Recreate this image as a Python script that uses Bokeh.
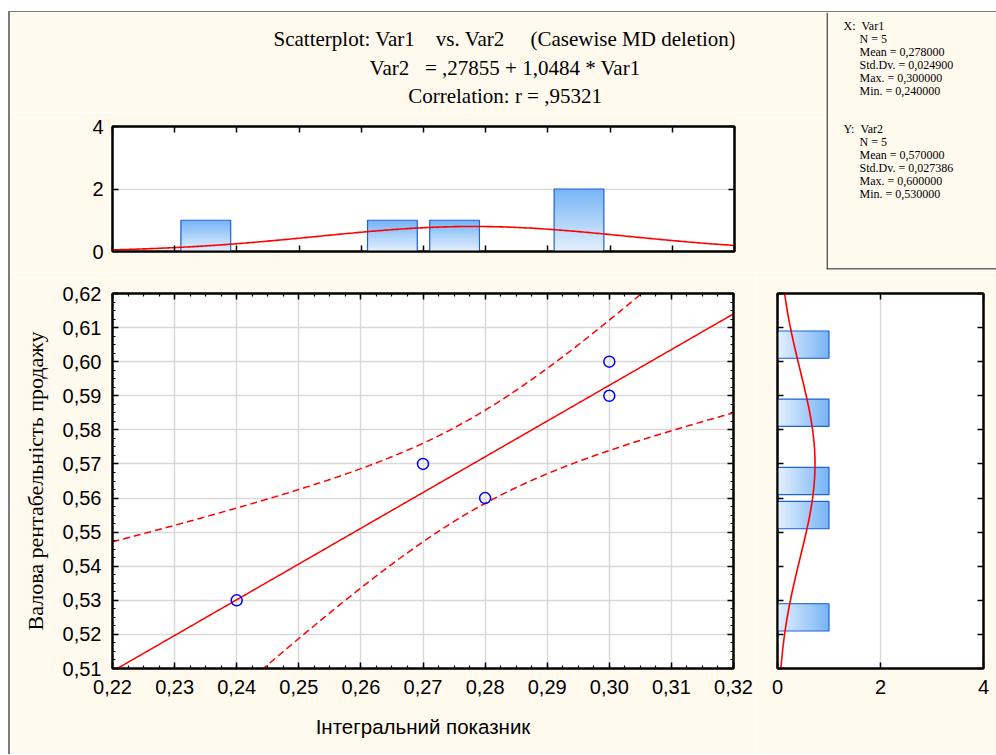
import numpy as np
from bokeh.plotting import figure
from bokeh.models import Range1d, LinearAxis, FixedTicker, Span, Spacer, ColumnDataSource, Grid
from bokeh.layouts import row, column
from bokeh.core.properties import value
from bokeh.embed import file_html
from bokeh.resources import INLINE

# ---------------- data ----------------
var1 = [0.24, 0.27, 0.28, 0.30, 0.30]   # Інтегральний показник
var2 = [0.53, 0.57, 0.56, 0.60, 0.59]   # Валова рентабельність продажу

x_hist_centers = [0.235, 0.265, 0.275, 0.295]
x_hist_counts = [1, 1, 1, 2]
y_hist_centers = [0.525, 0.555, 0.565, 0.585, 0.605]
y_hist_counts = [1, 1, 1, 1, 1]

x_ticks = [0.22, 0.23, 0.24, 0.25, 0.26, 0.27, 0.28, 0.29, 0.30, 0.31, 0.32]
x_tick_labels = ["0,22", "0,23", "0,24", "0,25", "0,26", "0,27", "0,28", "0,29", "0,30", "0,31", "0,32"]
y_ticks = [0.51, 0.52, 0.53, 0.54, 0.55, 0.56, 0.57, 0.58, 0.59, 0.60, 0.61, 0.62]
y_tick_labels = ["0,51", "0,52", "0,53", "0,54", "0,55", "0,56", "0,57", "0,58", "0,59", "0,60", "0,61", "0,62"]
count_ticks = [0, 2, 4]
count_tick_labels = ["0", "2", "4"]

NB = "\u00a0"
title_lines = [
    "Scatterplot: Var1" + NB * 3 + " vs. Var2" + NB * 4 + " (Casewise MD deletion)",
    "Var2" + NB * 2 + " = ,27855 + 1,0484 * Var1",
    "Correlation: r = ,95321",
]
stats_heads = ["X:" + NB * 2 + "Var1", "Y:" + NB * 2 + "Var2"]
stats_x_lines = ["N = 5", "Mean = 0,278000", "Std.Dv. = 0,024900", "Max. = 0,300000", "Min. = 0,240000"]
stats_y_lines = ["N = 5", "Mean = 0,570000", "Std.Dv. = 0,027386", "Max. = 0,600000", "Min. = 0,530000"]
x_label = "Інтегральний показник"
y_label = "Валова рентабельність продажу"

# ---------------- styles ----------------
BG = "#FFF9EE"
GRID = "#D9D9D9"
RED = "#FF0000"
BLUE = "#0000FF"
BAR_EDGE = "#1E62D6"
BAR_DARK = (118, 180, 246)
BAR_LIGHT = (228, 240, 253)
BAR_W = 0.008
BIN = 0.01
SANS = "Liberation Sans"
SERIF = "Liberation Serif"
TICK_FS = "20px"

# ---------------- fits ----------------
xa = np.array(var1)
ya = np.array(var2)
n = len(xa)
mx, my = xa.mean(), ya.mean()
sdx, sdy = xa.std(ddof=1), ya.std(ddof=1)
sxx = ((xa - mx) ** 2).sum()
slope = ((xa - mx) * (ya - my)).sum() / sxx
intercept = my - slope * mx
resid = ya - (intercept + slope * xa)
s_err = np.sqrt((resid ** 2).sum() / (n - 2))
T95 = 3.182446  # t(0.975, df = 3)
xs = np.linspace(0.22, 0.32, 301)
fit = intercept + slope * xs
half = T95 * s_err * np.sqrt(1.0 / n + (xs - mx) ** 2 / sxx)


def normal_counts(t, m, sd):
    return n * BIN * np.exp(-0.5 * ((t - m) / sd) ** 2) / (sd * np.sqrt(2 * np.pi))


def mix(c0, c1, f):
    r, g, b = (int(round(a + (bb - a) * f)) for a, bb in zip(c0, c1))
    return "#%02x%02x%02x" % (r, g, b)


def gradient_source(centers, counts, vertical, K=30):
    d = dict(left=[], right=[], bottom=[], top=[], color=[])
    for c, h in zip(centers, counts):
        for j in range(K):
            ext = h * (K - j) / K
            f = (K - j - 0.5) / K
            col = mix(BAR_LIGHT, BAR_DARK, f)
            if vertical:
                d["left"].append(c - BAR_W / 2); d["right"].append(c + BAR_W / 2)
                d["bottom"].append(0); d["top"].append(ext)
            else:
                d["bottom"].append(c - BAR_W / 2); d["top"].append(c + BAR_W / 2)
                d["left"].append(0); d["right"].append(ext)
            d["color"].append(col)
    return ColumnDataSource(d)


def style_axis(ax, ticks, labels=None, minor=None, tick_len=6, standoff=10):
    ax.ticker = FixedTicker(ticks=ticks, minor_ticks=minor or [])
    ax.axis_line_color = "black"
    ax.axis_line_width = 2
    ax.major_tick_in = tick_len
    ax.major_tick_out = 0
    ax.minor_tick_in = 3
    ax.minor_tick_out = 0
    ax.major_tick_line_width = 1.5
    ax.minor_tick_line_width = 1.2
    ax.major_tick_line_color = "black"
    ax.minor_tick_line_color = "black" if minor else None
    if labels is not None:
        ax.major_label_overrides = dict(zip(ticks, labels))
        ax.major_label_text_font = SANS
        ax.major_label_text_font_size = TICK_FS
        ax.major_label_text_color = "black"
        ax.major_label_standoff = standoff
    else:
        ax.major_label_text_font_size = "1px"
        ax.major_label_text_color = None
        ax.major_label_standoff = 0
    return ax


def plain_fig(**kw):
    p = figure(output_backend="svg", toolbar_location=None, title=None,
               x_axis_location=None, y_axis_location=None, **kw)
    for g in list(p.center):
        if isinstance(g, Grid):
            p.center.remove(g)
    return p


def base_fig(**kw):
    return plain_fig(background_fill_color="white", border_fill_color=BG,
                     outline_line_color="black", outline_line_width=2, **kw)


def add_grid(p, dim, ticks):
    p.add_layout(Grid(dimension=dim, ticker=FixedTicker(ticks=ticks),
                      grid_line_color=GRID, grid_line_width=1.5))


x_minor = [round(0.22 + 0.0025 * i, 4) for i in range(41)]
y_minor = [round(0.51 + 0.0025 * i, 4) for i in range(45)]

# ---------------- titles ----------------
pT = plain_fig(width=816, height=100, x_range=Range1d(0, 816), y_range=Range1d(0, 100),
               min_border_left=0, min_border_right=0, min_border_top=0, min_border_bottom=0,
               outline_line_color=None, background_fill_color=BG, border_fill_color=BG)
pT.text(x=[515, 515, 515], y=[73.5, 44.5, 16.5], text=title_lines, text_font=value(SERIF),
        text_font_size="21px", text_align="center", text_baseline="middle", text_color="black")

# ---------------- top histogram ----------------
pA = base_fig(width=816, height=160, x_range=Range1d(0.22, 0.32), y_range=Range1d(0, 4),
              min_border_left=102, min_border_right=92, min_border_top=14, min_border_bottom=21)
pA.add_layout(style_axis(LinearAxis(), x_ticks), "below")
pA.add_layout(style_axis(LinearAxis(), count_ticks, count_tick_labels, standoff=9), "left")
pA.add_layout(style_axis(LinearAxis(), x_ticks), "above")
pA.add_layout(style_axis(LinearAxis(), count_ticks), "right")
add_grid(pA, 1, count_ticks)
pA.quad(left="left", right="right", bottom="bottom", top="top", fill_color="color",
        line_color=None, source=gradient_source(x_hist_centers, x_hist_counts, True))
pA.quad(left=[c - BAR_W / 2 for c in x_hist_centers], right=[c + BAR_W / 2 for c in x_hist_centers],
        bottom=0, top=x_hist_counts, fill_color=None, line_color=BAR_EDGE, line_width=1.2)
pA.line(xs, normal_counts(xs, mx, sdx), line_color=RED, line_width=1.6)

# ---------------- stats box ----------------
pB = plain_fig(width=170, height=260, x_range=Range1d(0, 170), y_range=Range1d(0, 257),
               min_border_left=0, min_border_right=0, min_border_top=0, min_border_bottom=3,
               outline_line_color=None, background_fill_color=BG, border_fill_color=BG)
pB.add_layout(Span(location=0.6, dimension="height", line_color="#3c3c3c", line_width=1.5))
pB.add_layout(Span(location=0.6, dimension="width", line_color="#3c3c3c", line_width=1.5))
LINE_H = 13.0
for top_y, head, lines in [(244, stats_heads[0], stats_x_lines), (141, stats_heads[1], stats_y_lines)]:
    pB.text(x=[17], y=[top_y], text=[head], text_font=value(SERIF), text_font_size="12px",
            text_baseline="middle", text_color="black")
    pB.text(x=[33] * len(lines), y=[top_y - LINE_H * (i + 1) for i in range(len(lines))], text=lines,
            text_font=value(SERIF), text_font_size="12px", text_baseline="middle", text_color="black")

# ---------------- scatter ----------------
pC = base_fig(width=745, height=482, x_range=Range1d(0.22, 0.32), y_range=Range1d(0.51, 0.62),
              min_border_left=102, min_border_right=22, min_border_top=21, min_border_bottom=86)
axC_b = style_axis(LinearAxis(), x_ticks, x_tick_labels, minor=x_minor, standoff=11)
axC_l = style_axis(LinearAxis(), y_ticks, y_tick_labels, minor=y_minor, standoff=11)
axC_b.axis_label = x_label
axC_b.axis_label_text_font = SANS
axC_b.axis_label_text_font_size = "20.5px"
axC_b.axis_label_text_font_style = "normal"
axC_b.axis_label_text_color = "black"
axC_b.axis_label_standoff = 18
axC_l.axis_label = y_label
axC_l.axis_label_text_font = SERIF
axC_l.axis_label_text_font_size = "22px"
axC_l.axis_label_text_font_style = "normal"
axC_l.axis_label_text_color = "black"
axC_l.axis_label_standoff = 12
pC.add_layout(axC_b, "below")
pC.add_layout(axC_l, "left")
pC.add_layout(style_axis(LinearAxis(), x_ticks, minor=x_minor), "above")
pC.add_layout(style_axis(LinearAxis(), y_ticks, minor=y_minor), "right")
add_grid(pC, 0, x_ticks)
add_grid(pC, 1, y_ticks)
pC.line(xs, fit + half, line_color=RED, line_width=1.5, line_dash="7 4")
pC.line(xs, fit - half, line_color=RED, line_width=1.5, line_dash="7 4")
pC.line(xs, fit, line_color=RED, line_width=1.5)
pC.scatter(var1, var2, marker="circle", size=11, fill_color=None, line_color=BLUE, line_width=1.5)

# ---------------- right histogram ----------------
pD = base_fig(width=241, height=482, x_range=Range1d(0, 4), y_range=Range1d(0.51, 0.62),
              min_border_left=22, min_border_right=13, min_border_top=21, min_border_bottom=86)
pD.add_layout(style_axis(LinearAxis(), count_ticks, count_tick_labels, standoff=11), "below")
pD.add_layout(style_axis(LinearAxis(), y_ticks), "left")
pD.add_layout(style_axis(LinearAxis(), count_ticks), "above")
pD.add_layout(style_axis(LinearAxis(), y_ticks), "right")
add_grid(pD, 0, count_ticks)
pD.quad(left="left", right="right", bottom="bottom", top="top", fill_color="color",
        line_color=None, source=gradient_source(y_hist_centers, y_hist_counts, False))
pD.quad(left=0, right=y_hist_counts, bottom=[c - BAR_W / 2 for c in y_hist_centers],
        top=[c + BAR_W / 2 for c in y_hist_centers], fill_color=None, line_color=BAR_EDGE, line_width=1.2)
ys = np.linspace(0.51, 0.62, 301)
pD.line(normal_counts(ys, my, sdy), ys, line_color=RED, line_width=1.6)

# ---------------- layout ----------------
gap_top = Spacer(width=996, height=11)
gap_left = Spacer(width=8, height=743)
vline = Spacer(width=2, height=743, styles={"background-color": "#7a7a7a"})
hline = Spacer(width=986, height=1, styles={"background-color": "#7a7a7a"})
inner = column(hline, row(column(pT, pA), pB), row(pC, pD))
page = column(gap_top, row(gap_left, vline, inner))

open("out.html", "w").write(file_html(page, INLINE))
